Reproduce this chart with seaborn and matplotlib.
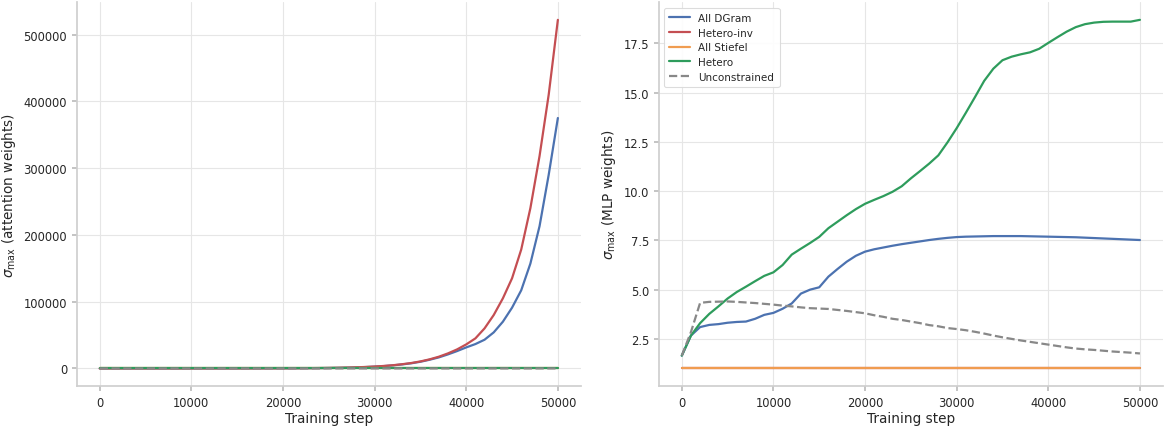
import numpy as np
import pandas as pd
import matplotlib
matplotlib.use("Agg")
import matplotlib.pyplot as plt
import seaborn as sns

# training steps, logged every 1000
steps = list(range(0, 50001, 1000))

# sigma_max of attention weights
attn_dgram = [1.6, 1.9, 2.3, 2.8, 3.4, 4.0, 5.0, 6.0, 7.5, 9.5,
              12, 16, 20, 27, 35, 45, 60, 78, 100, 135,
              175, 230, 300, 400, 520, 690, 900, 1190, 1560, 2050,
              2700, 3500, 4600, 6000, 7700, 10000, 13000, 16500, 21000, 26000,
              31500, 36500, 43000, 54000, 70000, 91000, 117000, 157000, 213000, 290000,
              375000]
attn_hetero_inv = [1.6, 1.9, 2.3, 2.8, 3.4, 4.1, 5.0, 6.1, 7.7, 9.8,
                   12.5, 16.5, 21, 28, 37, 49, 64, 84, 110, 145,
                   190, 250, 330, 435, 570, 750, 980, 1280, 1680, 2200,
                   2850, 3700, 4800, 6300, 8100, 10500, 13600, 17500, 22500, 28500,
                   36000, 45000, 60000, 80000, 105000, 135000, 178000, 240000, 318000, 410000,
                   522000]
attn_stiefel = [1.0] * 51
attn_hetero = [1.0] * 51
attn_unconstrained = [1.6, 2.4, 2.9, 3.1, 3.2, 3.3, 3.3, 3.4, 3.4, 3.5,
                      3.5, 3.6, 3.6, 3.6, 3.7, 3.7, 3.7, 3.8, 3.8, 3.8,
                      3.8, 3.9, 3.9, 3.9, 3.9, 4.0, 4.0, 4.0, 4.0, 4.0,
                      4.1, 4.1, 4.1, 4.1, 4.1, 4.2, 4.2, 4.2, 4.2, 4.2,
                      4.2, 4.3, 4.3, 4.3, 4.3, 4.3, 4.3, 4.3, 4.4, 4.4,
                      4.4]

# sigma_max of MLP weights
mlp_dgram = [1.65, 2.67, 3.10, 3.21, 3.25, 3.32, 3.36, 3.38, 3.52, 3.72,
             3.82, 4.03, 4.30, 4.80, 5.00, 5.12, 5.66, 6.05, 6.42, 6.72,
             6.93, 7.05, 7.14, 7.23, 7.31, 7.38, 7.45, 7.52, 7.58, 7.63,
             7.67, 7.69, 7.70, 7.71, 7.72, 7.72, 7.72, 7.72, 7.71, 7.70,
             7.69, 7.68, 7.67, 7.66, 7.64, 7.62, 7.60, 7.58, 7.56, 7.54,
             7.52]
mlp_hetero_inv = [1.0] * 51
mlp_stiefel = [1.0] * 51
mlp_hetero = [1.65, 2.67, 3.30, 3.77, 4.15, 4.55, 4.88, 5.15, 5.43, 5.70,
              5.88, 6.25, 6.78, 7.08, 7.37, 7.68, 8.12, 8.45, 8.78, 9.09,
              9.36, 9.56, 9.75, 9.97, 10.25, 10.65, 11.02, 11.40, 11.82, 12.48,
              13.20, 13.98, 14.78, 15.60, 16.22, 16.65, 16.83, 16.95, 17.05, 17.23,
              17.53, 17.82, 18.10, 18.33, 18.48, 18.56, 18.60, 18.61, 18.61, 18.61,
              18.70]
mlp_unconstrained = [1.65, 2.85, 4.33, 4.38, 4.39, 4.40, 4.38, 4.35, 4.32, 4.28,
                     4.24, 4.19, 4.15, 4.10, 4.06, 4.04, 4.02, 3.97, 3.92, 3.86,
                     3.80, 3.70, 3.62, 3.52, 3.46, 3.38, 3.30, 3.20, 3.14, 3.05,
                     3.00, 2.94, 2.86, 2.77, 2.67, 2.58, 2.50, 2.42, 2.35, 2.28,
                     2.21, 2.14, 2.07, 2.01, 1.97, 1.94, 1.90, 1.86, 1.83, 1.80,
                     1.76]

names = ["All DGram", "Hetero-inv", "All Stiefel", "Hetero", "Unconstrained"]
colors = ["#4C72B0", "#C44E52", "#F09C50", "#2E9C5C", "#888888"]

sns.set_theme(style="whitegrid")
plt.rcParams.update({
    "font.family": ["DejaVu Sans"],
    "axes.edgecolor": "#cfcfcf",
    "grid.color": "#e6e6e6",
    "grid.linewidth": 0.8,
    "xtick.bottom": True,
    "ytick.left": True,
    "xtick.color": "#bdbdbd",
    "ytick.color": "#bdbdbd",
    "xtick.labelcolor": "#262626",
    "ytick.labelcolor": "#262626",
    "xtick.major.size": 3.5,
    "ytick.major.size": 3.5,
    "xtick.labelsize": 8.3,
    "ytick.labelsize": 8.3,
    "axes.labelsize": 9.8,
})

fig, (ax1, ax2) = plt.subplots(1, 2, figsize=(11.64, 4.27), dpi=100)
fig.subplots_adjust(left=0.066, right=0.999, bottom=0.094, top=0.992, wspace=0.155)

attn = [attn_dgram, attn_hetero_inv, attn_stiefel, attn_hetero, attn_unconstrained]
mlp = [mlp_dgram, mlp_hetero_inv, mlp_stiefel, mlp_hetero, mlp_unconstrained]

for ax, series, show_legend in [(ax1, attn, False), (ax2, mlp, True)]:
    for name, vals, c in zip(names, series, colors):
        ls = "--" if name == "Unconstrained" else "-"
        sns.lineplot(x=steps, y=vals, ax=ax, color=c, linewidth=1.6, linestyle=ls,
                     label=name if show_legend else None, legend=False)
    ax.set_xlabel("Training step", labelpad=2)
    ax.set_xticks([0, 10000, 20000, 30000, 40000, 50000])
    sns.despine(ax=ax)

ax1.set_ylabel(r"$\sigma_{\max}$ (attention weights)", labelpad=4)
ax2.set_ylabel(r"$\sigma_{\max}$ (MLP weights)", labelpad=4)
ax1.ticklabel_format(axis="y", style="plain")

leg = ax2.legend(loc="upper left", fontsize=7.5, frameon=True, framealpha=0.9,
                 edgecolor="#d9d9d9", borderpad=0.5, labelspacing=0.45)
leg.get_frame().set_linewidth(0.8)

fig.savefig("out.png", dpi=100)
